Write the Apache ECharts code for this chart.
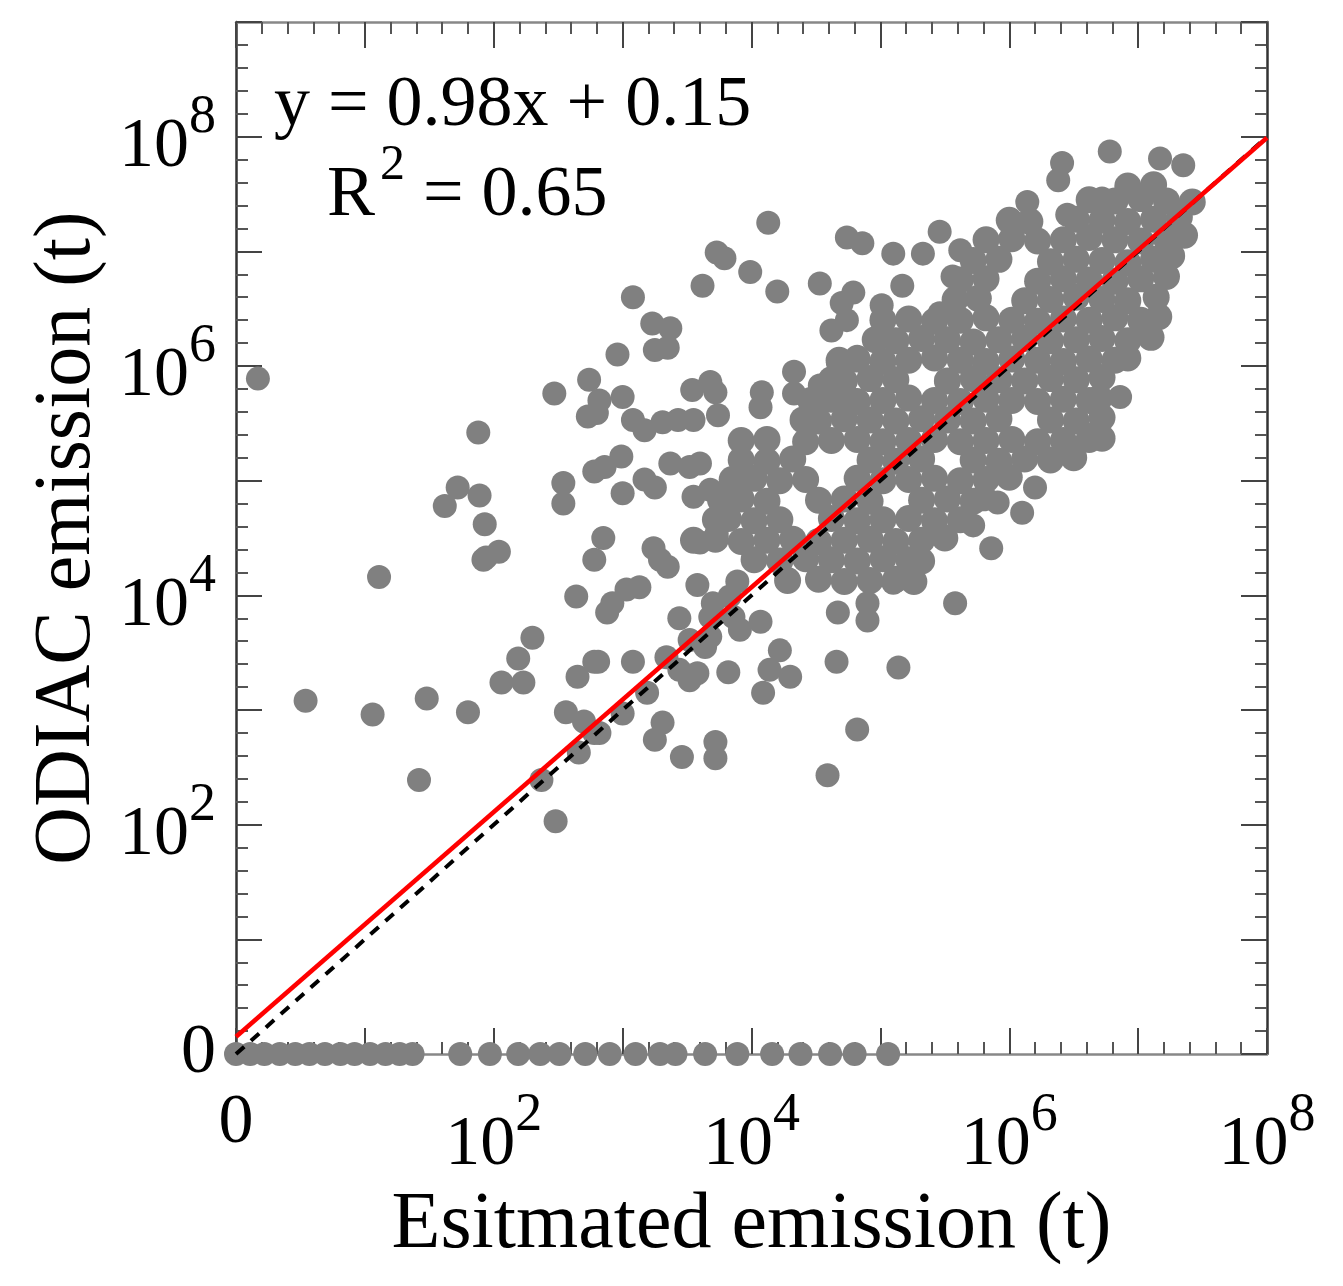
<!DOCTYPE html>
<html>
<head>
<meta charset="utf-8">
<script src="https://cdn.jsdelivr.net/npm/echarts@6/dist/echarts.min.js"></script>
<style>
html,body{margin:0;padding:0;background:#fff;}
#chart{width:1343px;height:1286px;}
</style>
</head>
<body>
<div id="chart"></div>
<script>
// all values are log10 of emission in tonnes; 0 on the axis stands for zero emission
var labelDecades = [0, 2, 4, 6, 8];
var fitSlope = 0.98;
var fitIntercept = 0.15;

// sites where ODIAC gives 0 (estimated emission, log10)
var zeroOdiacEst = [0, 0.11, 0.22, 0.34, 0.46, 0.57, 0.69, 0.81, 0.92, 1.04, 1.16, 1.27, 1.37,
    1.74, 1.97, 2.19, 2.36, 2.51, 2.71, 2.90, 3.10, 3.29, 3.41, 3.64, 3.89, 4.16, 4.38, 4.61, 4.80, 5.06];

// scattered sites [estimated, ODIAC]
var scatterOutliers = [
    [0.17,5.89],[2.47,5.76],[1.88,5.42],[1.72,4.94],[1.62,4.78],[1.89,4.87],[1.93,4.62],[2.04,4.38],[1.94,4.33],
    [2.54,4.98],[2.54,4.80],[2.74,5.88],[2.73,5.56],[2.78,5.08],[2.82,5.70],
    [4.13,7.25],[4.74,7.12],[4.86,7.07],[3.73,6.99],[3.79,6.94],[3.99,6.82],[3.62,6.70],[4.20,6.65],[4.53,6.72],
    [3.08,6.60],[5.10,6.98],[5.33,6.98],[5.46,7.17],[5.17,6.70],[4.79,6.64],[4.70,6.55],[5.01,6.53],[4.74,6.40],
    [4.62,6.31],[5.46,6.46],[3.23,6.37],[3.37,6.33],[3.25,6.14],[3.35,6.16],[2.96,6.10],[4.67,6.03],[4.82,6.08],
    [4.33,5.95],[4.33,5.76],[4.53,5.83],[4.75,5.73],[2.80,5.59],[3.00,5.73],[3.54,5.79],[3.68,5.86],[3.72,5.77],
    [4.08,5.77],[4.07,5.64],[3.74,5.57],[3.08,5.53],[3.17,5.44],[3.31,5.51],[3.43,5.53],[3.55,5.53],[4.43,5.56],
    [2.86,5.12],[2.99,5.21],[3.00,4.89],[3.37,5.15],[3.17,5.01],[3.25,4.94],[3.52,5.12],[3.60,5.15],[3.55,4.86],
    [3.68,4.92],[2.85,4.50],[3.24,4.41],[3.60,4.46],[3.73,4.54],
    [6.78,7.87],[7.17,7.81],[7.35,7.75],[6.41,7.77],[6.38,7.62],[6.14,7.43],[6.45,7.32],[5.62,7.01],[5.56,6.78],
    [6.72,7.46],[6.86,5.73],
    [5.91,4.81],[6.20,4.94],[6.10,4.72],[5.86,4.41],[5.58,3.93],[4.67,3.85],[4.90,3.93],[4.90,3.78],[5.72,4.61],
    [6.49,5.25],[6.64,5.40],
    [3.29,4.31],[3.35,4.25],[3.58,4.09],[3.13,4.07],[3.03,4.05],[2.92,3.93],[2.88,3.85],[3.44,3.80],[3.89,4.12],
    [3.83,3.99],[3.70,3.93],[3.68,3.81],[4.07,3.77],[3.91,3.70],[3.86,3.81],[3.64,3.55],[3.52,3.61],[3.68,3.64],
    [2.81,3.42],[3.08,3.42],[3.34,3.46],[3.44,3.35],[3.52,3.26],[3.58,3.32],[3.82,3.33],[4.22,3.52],[4.14,3.35],
    [4.30,3.29],[4.09,3.15],[4.66,3.42],[5.14,3.37],[3.19,3.15],[3.00,2.97],[2.82,2.80],[3.31,2.89],[3.25,2.74],
    [3.46,2.59],[3.72,2.72],[3.72,2.58],[4.82,2.83],[4.59,2.43],[5.10,4.11],
    [1.11,4.16],[1.92,4.31],[2.78,4.31],[2.64,3.99],[2.30,3.63],[2.19,3.45],[2.06,3.24],[2.23,3.24],[2.65,3.29],
    [2.78,3.42],[0.54,3.08],[1.06,2.96],[1.48,3.10],[1.80,2.98],[2.56,2.98],[2.70,2.90],[2.78,2.80],[2.66,2.63],
    [2.37,2.39],[1.42,2.39],[2.48,2.03]
];

// the dense band of sites along the 1:1 line [estimated, ODIAC]
var scatterCore = [
    [6.92,7.57],[7.12,7.58],
    [6.62,7.45],[6.82,7.44],[7.02,7.46],[7.22,7.44],[7.42,7.43],
    [6.00,7.27],[6.16,7.26],[6.52,7.28],[6.72,7.27],[6.92,7.26],[7.12,7.28],[7.32,7.30],
    [5.82,7.10],[6.02,7.11],[6.22,7.09],[6.42,7.10],[6.62,7.12],[6.82,7.10],[7.02,7.09],[7.22,7.11],[7.36,7.14],
    [5.72,6.92],[5.92,6.93],[6.32,6.91],[6.52,6.93],[6.72,6.92],[6.92,6.90],[7.12,6.93],[7.26,6.96],
    [5.62,6.75],[5.82,6.76],[6.22,6.74],[6.42,6.76],[6.62,6.75],[6.82,6.74],[7.02,6.76],[7.22,6.78],
    [5.58,6.58],[5.76,6.59],[6.12,6.57],[6.32,6.58],[6.52,6.60],[6.72,6.58],[6.92,6.57],[7.14,6.60],
    [5.02,6.40],[5.22,6.41],[5.42,6.39],[5.62,6.40],[5.82,6.42],[6.02,6.40],[6.22,6.39],[6.42,6.41],[6.62,6.40],
    [6.82,6.42],[7.02,6.40],[7.16,6.43],
    [4.96,6.23],[5.12,6.22],[5.32,6.24],[5.52,6.23],[5.72,6.21],[5.92,6.23],[6.12,6.24],[6.32,6.22],[6.52,6.23],
    [6.72,6.24],[6.92,6.22],[7.10,6.25],
    [4.68,6.05],[4.82,6.06],[5.02,6.04],[5.22,6.05],[5.42,6.07],[5.62,6.05],[5.82,6.04],[6.02,6.06],[6.22,6.05],
    [6.42,6.04],[6.62,6.06],[6.82,6.05],[6.92,6.07],
    [4.62,5.88],[4.72,5.87],[4.92,5.89],[5.12,5.88],[5.52,5.87],[5.72,5.89],[5.92,5.88],[6.12,5.87],[6.32,5.89],
    [6.52,5.88],[6.72,5.90],
    [4.46,5.70],[4.62,5.71],[4.82,5.69],[5.02,5.70],[5.22,5.72],[5.42,5.70],[5.62,5.69],[5.82,5.71],[6.02,5.70],
    [6.22,5.69],[6.42,5.71],[6.62,5.70],[6.70,5.72],
    [4.40,5.53],[4.52,5.52],[4.72,5.54],[4.92,5.53],[5.12,5.52],[5.32,5.54],[5.52,5.53],[5.72,5.52],[5.92,5.54],
    [6.32,5.53],[6.52,5.52],[6.72,5.55],
    [3.92,5.35],[4.12,5.36],[4.42,5.34],[4.62,5.35],[4.82,5.36],[5.02,5.34],[5.22,5.35],[5.42,5.36],[5.62,5.34],
    [5.82,5.35],[6.02,5.36],[6.22,5.34],[6.42,5.35],[6.62,5.36],[6.72,5.37],
    [3.92,5.18],[4.12,5.17],[4.32,5.19],[4.92,5.18],[5.12,5.17],[5.32,5.19],[5.72,5.18],[5.92,5.17],[6.12,5.19],
    [6.32,5.18],[6.50,5.20],
    [3.85,5.01],[4.02,5.02],[4.22,5.00],[4.42,5.01],[4.82,5.02],[5.02,5.00],[5.22,5.01],[5.42,5.02],[5.62,5.00],
    [5.82,5.01],[6.00,5.03],
    [3.76,4.83],[3.92,4.84],[4.12,4.82],[4.52,4.83],[4.72,4.84],[4.92,4.82],[5.32,4.83],[5.52,4.84],[5.72,4.82],
    [5.80,4.85],
    [3.72,4.66],[3.82,4.67],[4.02,4.65],[4.22,4.66],[4.62,4.67],[4.82,4.65],[5.02,4.66],[5.22,4.67],[5.42,4.65],
    [5.62,4.66],
    [3.55,4.48],[3.72,4.49],[3.92,4.47],[4.12,4.48],[4.32,4.49],[4.52,4.47],[4.72,4.48],[4.92,4.49],[5.12,4.47],
    [5.32,4.48],[5.50,4.50],
    [4.02,4.31],[4.22,4.30],[4.42,4.32],[4.62,4.31],[4.82,4.30],[5.02,4.32],[5.22,4.31],[5.32,4.30],
    [4.28,4.13],[4.52,4.14],[4.72,4.12],[4.92,4.13],[5.12,4.14],[5.26,4.12]
];

var serif = '"Liberation Serif", "DejaVu Serif", serif';
var zeroPoints = zeroOdiacEst.map(function (x) { return [x, 0]; });
var fitLine = [[0, fitIntercept], [8, fitSlope * 8 + fitIntercept]];
var oneToOne = [[0, 0], [8, 8]];

function decadeLabel(v) {
    if (labelDecades.indexOf(v) < 0) return '';
    if (v === 0) return '{p|0}';
    return '{b|10}{s|' + v + '}';
}
var labelRich = {
    p: {fontSize: 70, fontFamily: serif, color: '#000'},
    b: {fontSize: 70, fontFamily: serif, color: '#000', padding: [22, 0, 0, 0]},
    s: {fontSize: 54, fontFamily: serif, color: '#000', verticalAlign: 'top'}
};

function makeAxis(pos, dark, withLabels, name) {
    return {
        type: 'value',
        position: pos,
        min: 0,
        max: (pos === 'left' || pos === 'right') ? 9 : 8,
        interval: 1,
        name: name || '',
        nameLocation: 'middle',
        nameGap: (pos === 'left') ? 118 : 122,
        nameTextStyle: {fontSize: 80, fontFamily: serif, color: '#000'},
        axisLine: {show: true, onZero: false, lineStyle: {color: dark ? '#333' : '#888', width: 2.5}},
        axisTick: {show: true, inside: true, length: 26, lineStyle: {color: '#444', width: 2}},
        minorTick: {show: true, splitNumber: 5, length: 12, lineStyle: {color: '#555', width: 2}},
        splitLine: {show: false},
        axisLabel: {
            show: withLabels,
            margin: (pos === 'left') ? 20 : 35,
            formatter: decadeLabel,
            rich: labelRich
        }
    };
}

var chart = echarts.init(document.getElementById('chart'));
chart.setOption({
    backgroundColor: '#fff',
    animation: false,
    grid: {left: 236, right: 76, top: 22, bottom: 232},
    xAxis: [
        makeAxis('bottom', false, true, 'Esitmated emission (t)'),
        makeAxis('top', false, false)
    ],
    yAxis: [
        makeAxis('left', true, true, 'ODIAC emission (t)'),
        makeAxis('right', true, false)
    ],
    graphic: [
        {type: 'text', left: 274, top: 70, style: {text: 'y = 0.98x + 0.15', font: '72px ' + serif, fill: '#000'}},
        {type: 'text', left: 327, top: 160, style: {text: 'R', font: '72px ' + serif, fill: '#000'}},
        {type: 'text', left: 380, top: 141, style: {text: '2', font: '50px ' + serif, fill: '#000'}},
        {type: 'text', left: 423, top: 160, style: {text: '= 0.65', font: '72px ' + serif, fill: '#000'}}
    ],
    series: [
        {
            type: 'scatter', name: 'core', data: scatterCore, symbolSize: 27, z: 2,
            itemStyle: {color: '#808080', opacity: 1}
        },
        {
            type: 'scatter', name: 'outliers', data: scatterOutliers, symbolSize: 24, z: 2,
            itemStyle: {color: '#808080', opacity: 1}
        },
        {
            type: 'scatter', name: 'zero', data: zeroPoints, symbolSize: 24, z: 2, clip: false,
            itemStyle: {color: '#808080', opacity: 1}
        },
        {
            type: 'line', name: '1:1', data: oneToOne, showSymbol: false, z: 4,
            lineStyle: {color: '#000', width: 4, type: [11, 9]}
        },
        {
            type: 'line', name: 'fit', data: fitLine, showSymbol: false, z: 5,
            lineStyle: {color: '#ff0000', width: 4.5}
        }
    ]
});
</script>
</body>
</html>
